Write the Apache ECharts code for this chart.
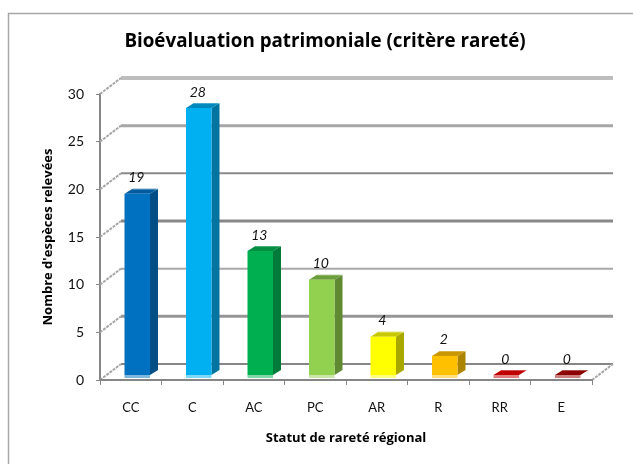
<!DOCTYPE html>
<html>
<head>
<meta charset="utf-8">
<style>
  html, body { margin: 0; padding: 0; background: #fff; }
  #chart { width: 633px; height: 464px; }
</style>
<script src="https://cdn.jsdelivr.net/npm/echarts@6/dist/echarts.min.js"></script>
</head>
<body>
<div id="chart"></div>
<script>
// Data
const categories = ["CC", "C", "AC", "PC", "AR", "R", "RR", "E"];
const speciesCounts = [19, 28, 13, 10, 4, 2, 0, 0];
const yTicks = [0, 5, 10, 15, 20, 25, 30];

// Bar faces, in category order
const barColors = ["#0070C0", "#00B0F0", "#00B050", "#92D050", "#FFFF00", "#FFC000", "#C00000", "#990000"];
const sideColors = ["#004E86", "#0074A0", "#007A38", "#5F8A32", "#A8A800", "#AC8400", "#900000", "#6A0000"];
const capColors = ["#005C9E", "#0088BC", "#008F42", "#6B9E3A", "#C8C800", "#C89600", "#C00000", "#8E0000"];
const footColors = ["#7FB7DF", "#80D8F8", "#80D8A8", "#C9E8A8", "#FFFF80", "#FFDF80", "#E08080", "#CC8080"];
// Back wall lines, same order as yTicks
const wallColors = ["#868686", "#969696", "#a8a8a8", "#888888", "#8a8a8a", "#a6a6a6", "#bdbdbd"];
const wallWidths = [2, 3, 2, 3, 2, 3, 4];

const FONT = "Lato";
const BOLD_FONT = "Open Sans";
const AXIS_GREY = "#868686";
const DEPTH_X = 21, DEPTH_Y = 16; // fake 3D offset of the back wall
const BAR_W = 25.5, BAR_SHIFT = 6.5, BAR_LIFT = 5, BAR_DX = 8, BAR_DY = 5;

const chart = echarts.init(document.getElementById("chart"));

// Back wall line + diagonal going from the y axis to the wall
function renderWall(params, api) {
  const i = params.dataIndex;
  const v = api.value(0);
  const rect = params.coordSys;
  const y = api.coord([0, v])[1];
  const x0 = rect.x;
  const x1 = rect.x + rect.width;
  const children = [
    {
      type: "line",
      shape: { x1: x0 + DEPTH_X, y1: y - DEPTH_Y, x2: x1 + DEPTH_X, y2: y - DEPTH_Y },
      style: { stroke: wallColors[i], lineWidth: wallWidths[i] },
    },
    {
      type: "line",
      shape: { x1: x0, y1: y, x2: x0 + DEPTH_X, y2: y - DEPTH_Y },
      style: { stroke: "#a6a6a6", lineWidth: 2, lineDash: [3, 1] },
    },
  ];
  if (v === 0) {
    children.push({
      type: "line",
      shape: { x1: x1, y1: y, x2: x1 + DEPTH_X, y2: y - DEPTH_Y },
      style: { stroke: "#a6a6a6", lineWidth: 2, lineDash: [3, 1] },
    });
  }
  return { type: "group", children: children };
}

// Bar with front, side and top faces, plus the pale foot and the value label
function renderBar(params, api) {
  const i = params.dataIndex;
  const top = api.coord([api.value(0), api.value(1)]);
  const base = api.coord([api.value(0), 0]);
  const left = top[0] + BAR_SHIFT - BAR_W / 2;
  const right = left + BAR_W;
  const yTop = top[1] - BAR_LIFT;
  const yBase = base[1] - BAR_LIFT;
  return {
    type: "group",
    children: [
      {
        type: "polygon",
        shape: { points: [[right, yTop], [right + BAR_DX, yTop - BAR_DY], [right + BAR_DX, yBase - BAR_DY], [right, yBase]] },
        style: { fill: sideColors[i] },
      },
      {
        type: "polygon",
        shape: { points: [[left, yTop], [left + BAR_DX, yTop - BAR_DY], [right + BAR_DX, yTop - BAR_DY], [right, yTop]] },
        style: { fill: capColors[i] },
      },
      {
        type: "line",
        shape: { x1: left + BAR_DX, y1: yTop - BAR_DY + 0.5, x2: right + BAR_DX, y2: yTop - BAR_DY + 0.5 },
        style: { stroke: "#fff", lineWidth: 1, opacity: 0.3 },
      },
      {
        type: "rect",
        shape: { x: left, y: yTop, width: BAR_W, height: yBase - yTop },
        style: { fill: barColors[i] },
      },
      {
        type: "rect",
        shape: { x: left, y: yBase, width: BAR_W, height: 3 },
        style: { fill: footColors[i] },
      },
      {
        type: "text",
        style: {
          x: top[0] + BAR_SHIFT - 1,
          y: yTop - 16,
          text: String(api.value(1)),
          align: "center",
          verticalAlign: "middle",
          font: "italic 14px " + FONT,
          fill: "#111",
        },
      },
    ],
  };
}

const options = {
  animation: false,
  backgroundColor: "#fff",
  title: {
    text: "Bioévaluation patrimoniale (critère rareté)",
    left: 320,
    top: 27,
    textAlign: "center",
    textStyle: { fontFamily: BOLD_FONT, fontWeight: "bold", fontSize: 18.8, color: "#000" },
  },
  graphic: [
    {
      type: "rect",
      shape: { x: 8.5, y: 13.5, width: 640, height: 470 },
      style: { fill: "none", stroke: "#a6a6a6", lineWidth: 1.5 },
      silent: true,
      z: -1,
    },
  ],
  grid: { left: 100, right: 41, top: 94, bottom: 84 },
  xAxis: {
    type: "category",
    data: categories,
    name: "Statut de rareté régional",
    nameLocation: "middle",
    nameGap: 52,
    nameTextStyle: { fontFamily: BOLD_FONT, fontWeight: "bold", fontSize: 13, color: "#000" },
    axisLine: { lineStyle: { color: AXIS_GREY, width: 2 } },
    axisTick: { show: true, length: 5, lineStyle: { color: AXIS_GREY, width: 1 } },
    axisLabel: { margin: 21, fontFamily: FONT, fontSize: 13, color: "#111" },
    z: 5,
  },
  yAxis: {
    type: "value",
    min: 0,
    max: 30,
    interval: 5,
    name: "Nombre d'espèces relevées",
    nameLocation: "middle",
    nameGap: 45,
    nameTextStyle: { fontFamily: BOLD_FONT, fontWeight: "bold", fontSize: 13, color: "#000" },
    axisLine: { show: true, lineStyle: { color: AXIS_GREY, width: 2 } },
    axisTick: { show: true, length: 4, lineStyle: { color: AXIS_GREY, width: 1 } },
    axisLabel: { margin: 16, fontFamily: FONT, fontSize: 14, color: "#111" },
    splitLine: { show: false },
  },
  series: [
    {
      type: "custom",
      name: "wall",
      coordinateSystem: "cartesian2d",
      clip: false,
      silent: true,
      z: 1,
      encode: { y: 0 },
      data: yTicks.map((v) => [v]),
      renderItem: renderWall,
    },
    {
      type: "custom",
      name: "Nombre d'espèces",
      coordinateSystem: "cartesian2d",
      clip: false,
      z: 3,
      encode: { x: 0, y: 1 },
      data: speciesCounts.map((v, i) => [i, v]),
      renderItem: renderBar,
    },
  ],
};

chart.setOption(options);
</script>
</body>
</html>
